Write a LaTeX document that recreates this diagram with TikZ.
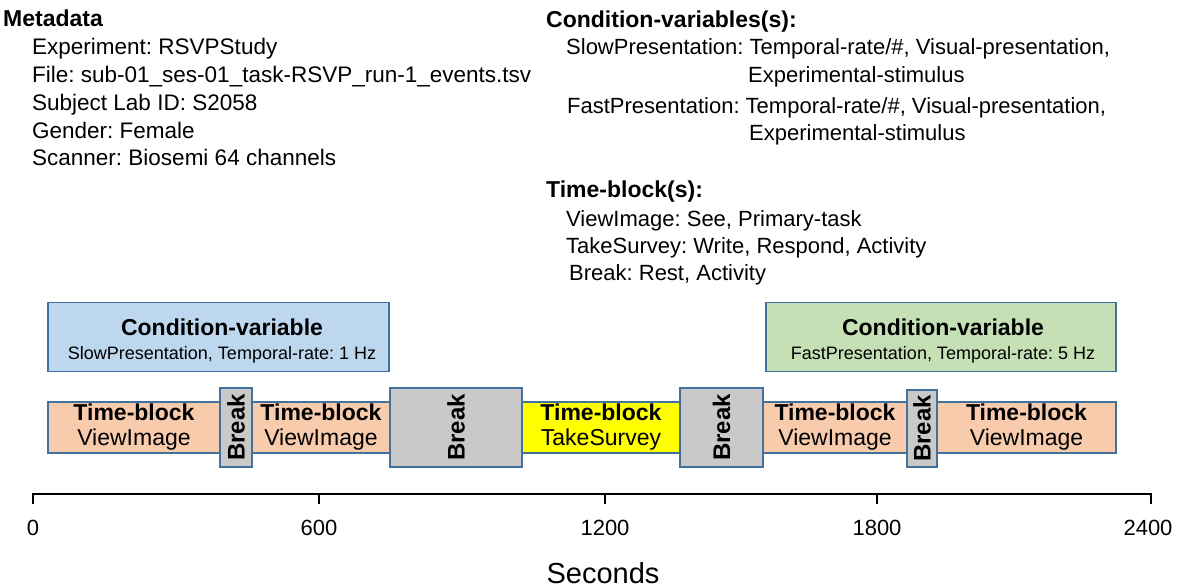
\documentclass[tikz,border=0pt]{standalone}
\usepackage{fontspec}
\usepackage{graphicx}
\setmainfont{Liberation Sans}
\frenchspacing
\definecolor{bordc}{HTML}{41719C}
\definecolor{cvblue}{HTML}{BDD7EE}
\definecolor{cvgreen}{HTML}{C5E0B4}
\definecolor{tborange}{HTML}{F8CBAD}
\definecolor{tbyellow}{HTML}{FFFF00}
\definecolor{brgray}{HTML}{C9C9C9}
\tikzset{
  txt/.style={anchor=base west, inner sep=0pt, font=\fontsize{22.5}{26}\selectfont},
  rtxt/.style={anchor=base west, inner sep=0pt, font=\fontsize{22}{26}\selectfont},
  head/.style={anchor=base west, inner sep=0pt, font=\fontsize{23}{26}\selectfont\bfseries},
  box/.style={rectangle, draw=bordc, line width=1.3pt, inner sep=0pt},
  cvbox/.style={box, minimum height=69pt},
  cvtitle/.style={inner sep=0pt, font=\fontsize{23}{26}\selectfont\bfseries},
  cvsub/.style={inner sep=0pt, font=\fontsize{18}{20}\selectfont},
  tb/.style={box, fill=tborange, minimum height=51pt, align=center, font=\fontsize{23}{25}\selectfont},
  brk/.style={box, fill=brgray, minimum height=79pt, font=\fontsize{24}{26}\selectfont\bfseries},
  axisline/.style={line width=2pt, line cap=rect},
  ticklabel/.style={inner sep=0pt, font=\fontsize{22}{24}\selectfont},
}
\begin{document}
\begin{tikzpicture}[x=1pt, y=-1pt]
\useasboundingbox (0,0) rectangle (1180,588);
% Metadata
\node[head] (meta) at (3,27) {Metadata};
\node[txt] (m1) at (32,55) {Experiment: RSVPStudy};
\node[txt] (m2) at (32,83) {File: sub-01\_ses-01\_task-RSVP\_run-1\_events.tsv};
\node[txt] (m3) at (32,111) {Subject Lab ID: S2058};
\node[txt] (m4) at (32,139) {Gender: Female};
\node[txt] (m5) at (32,166) {Scanner: Biosemi 64 channels};
% Condition variables
\node[head] (cvh) at (546,28) {Condition-variables(s):};
\node[rtxt] (cv1) at (566,55) {SlowPresentation: Temporal-rate/\#, Visual-presentation,};
\node[rtxt] (cv1b) at (748,83) {Experimental-stimulus};
\node[rtxt] (cv2) at (567,114) {FastPresentation: Temporal-rate/\#, Visual-presentation,};
\node[rtxt] (cv2b) at (749,141) {Experimental-stimulus};
% Time blocks
\node[head] (tbh) at (546,198) {Time-block(s):};
\node[rtxt] (t1) at (566,226) {ViewImage: See, Primary-task};
\node[rtxt] (t2) at (566,253) {TakeSurvey: Write, Respond, Activity};
\node[rtxt] (t3) at (569,280) {Break: Rest, Activity};
% Condition-variable boxes
\node[cvbox, fill=cvblue, minimum width=341pt] (cvA) at (218.5,337) {};
\node[cvtitle] (cvAt) at (222,327) {Condition-variable};
\node[cvsub] (cvAs) at (222,355) {SlowPresentation, Temporal-rate: 1 Hz};
\node[cvbox, fill=cvgreen, minimum width=350pt] (cvB) at (941,337) {};
\node[cvtitle] (cvBt) at (943,327) {Condition-variable};
\node[cvsub] (cvBs) at (943,355) {FastPresentation, Temporal-rate: 5 Hz};
% Timeline blocks
\node[tb, minimum width=172pt] (tb1) at (134,427.5) {\textbf{Time-block}\\ViewImage};
\node[tb, minimum width=138pt] (tb2) at (321,427.5) {\textbf{Time-block}\\ViewImage};
\node[tb, fill=tbyellow, minimum width=158pt] (tb3) at (601,427.5) {\textbf{Time-block}\\TakeSurvey};
\node[tb, minimum width=144pt] (tb4) at (835,427.5) {\textbf{Time-block}\\ViewImage};
\node[tb, minimum width=179pt] (tb5) at (1026.5,427.5) {\textbf{Time-block}\\ViewImage};
\node[brk, minimum width=32pt] (br1) at (236,427.5) {\rotatebox{90}{Break}};
\node[brk, minimum width=132pt] (br2) at (456,427.5) {\rotatebox{90}{Break}};
\node[brk, minimum width=83pt] (br3) at (721.5,427.5) {\rotatebox{90}{Break}};
\node[brk, minimum width=30pt, minimum height=77pt] (br4) at (922,428.5) {\rotatebox{90}{Break}};
% Axis
\coordinate (a0) at (33,494);
\coordinate (a600) at (319,494);
\coordinate (a1200) at (605,494);
\coordinate (a1800) at (877,494);
\coordinate (a2400) at (1151,494);
\coordinate (a0t) at (33,503);
\coordinate (a600t) at (319,503);
\coordinate (a1200t) at (605,503);
\coordinate (a1800t) at (877,503);
\coordinate (a2400t) at (1151,503);
\draw[axisline] (a0t) -- (a0) -- (a2400) -- (a2400t);
\draw[axisline] (a600) -- (a600t);
\draw[axisline] (a1200) -- (a1200t);
\draw[axisline] (a1800) -- (a1800t);
\node[ticklabel] (l0) at (33,528) {0};
\node[ticklabel] (l600) at (319,528) {600};
\node[ticklabel] (l1200) at (605,528) {1200};
\node[ticklabel] (l1800) at (877,528) {1800};
\node[ticklabel] (l2400) at (1148,528) {2400};
\node[inner sep=0pt, font=\fontsize{29}{32}\selectfont] (secs) at (603,573) {Seconds};
\end{tikzpicture}
\end{document}
